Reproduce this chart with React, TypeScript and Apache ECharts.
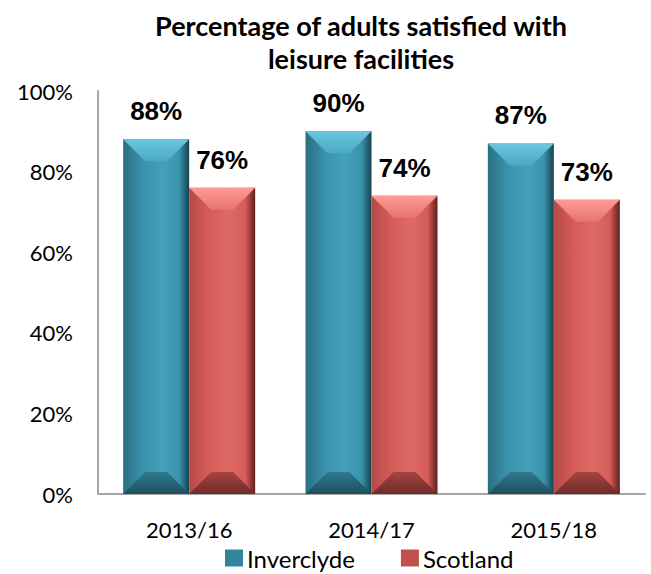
import React, { useEffect, useRef } from "react";
import * as echarts from "echarts";

const categories = ["2013/16", "2014/17", "2015/18"];
const inverclyde = [88, 90, 87];
const scotland = [76, 74, 73];
const yTicks = [0, 20, 40, 60, 80, 100];
const seriesNames = ["Inverclyde", "Scotland"];

const palettes = [
  { edgeL: "#2a6f82", mid: "#3a93ad", light: "#45a0b9", edgeR: "#17414d", top1: "#6cc6df", top2: "#4aa9c4", bot1: "#2f7a8f", bot2: "#1d4f5d", legend: "#31859c" },
  { edgeL: "#b54a47", mid: "#d65c58", light: "#dd6a66", edgeR: "#5e1f1d", top1: "#ff9a96", top2: "#e57470", bot1: "#a84441", bot2: "#6e2b29", legend: "#c0504d" },
];

export default function App() {
  const ref = useRef<HTMLDivElement>(null);
  useEffect(() => {
    document.body.style.margin = "0";
    const chart = echarts.init(ref.current!, undefined, { renderer: "svg" });
    const makeSeries = (idx: number, values: number[]) => {
      const p = palettes[idx];
      return {
        type: "custom",
        name: seriesNames[idx],
        itemStyle: { color: p.legend },
        data: values.map((v, i) => [i, v]),
        renderItem: (params: any, api: any) => {
          const ci = api.value(0);
          const v = api.value(1);
          const base = api.coord([ci, 0]);
          const top = api.coord([ci, v]);
          const band = api.size([1, 0])[0];
          const bw = band * 0.362;
          const x0 = idx === 0 ? base[0] - bw : base[0];
          const yt = top[1];
          const yb = base[1];
          const h = yb - yt;
          const d = Math.min(22, bw * 0.34, h / 2);
          const hGrad = new echarts.graphic.LinearGradient(0, 0, 1, 0, [
            { offset: 0, color: p.edgeL },
            { offset: 0.3, color: p.mid },
            { offset: 0.6, color: p.light },
            { offset: 0.85, color: p.mid },
            { offset: 1, color: p.edgeR },
          ]);
          return {
            type: "group",
            children: [
              { type: "rect", shape: { x: x0, y: yt, width: bw, height: h }, style: { fill: hGrad } },
              {
                type: "polygon",
                shape: { points: [[x0, yt], [x0 + bw, yt], [x0 + bw - d, yt + d], [x0 + d, yt + d]] },
                style: { fill: new echarts.graphic.LinearGradient(0, 0, 0, 1, [{ offset: 0, color: p.top1 }, { offset: 1, color: p.top2 }]) },
              },
              {
                type: "polygon",
                shape: { points: [[x0, yb], [x0 + bw, yb], [x0 + bw - d, yb - d], [x0 + d, yb - d]] },
                style: { fill: new echarts.graphic.LinearGradient(0, 0, 0, 1, [{ offset: 0, color: p.bot1 }, { offset: 1, color: p.bot2 }]) },
              },
              {
                type: "text",
                style: {
                  text: v + "%",
                  x: x0 + bw / 2,
                  y: yt - 15,
                  align: "center",
                  verticalAlign: "bottom",
                  fill: "#000",
                  font: "bold 26px 'Liberation Sans', Arial, sans-serif",
                },
              },
            ],
          };
        },
      };
    };
    chart.setOption({
      animation: false,
      title: {
        text: "Percentage of adults satisfied with\nleisure facilities",
        left: 356,
        top: 4,
        textAlign: "center",
        textStyle: { fontFamily: "Lato", fontWeight: "bold", fontSize: 27, lineHeight: 33, color: "#000" },
      },
      legend: {
        top: 541,
        left: 220,
        itemWidth: 18,
        itemHeight: 17,
        itemGap: 46,
        icon: "rect",
        data: seriesNames,
        textStyle: { fontFamily: "Lato", fontSize: 24, lineHeight: 24, color: "#000", padding: [0, 0, 0, -1] },
      },
      grid: { left: 98, right: 6, top: 91, bottom: 80 },
      xAxis: {
        type: "category",
        data: categories,
        axisLine: { lineStyle: { color: "#a6a6a6", width: 2 } },
        axisTick: { show: false },
        axisLabel: { fontFamily: "Lato", fontSize: 22, color: "#000", margin: 24 },
      },
      yAxis: {
        type: "value",
        min: yTicks[0],
        max: yTicks[yTicks.length - 1],
        interval: 20,
        axisLine: { show: true, lineStyle: { color: "#a6a6a6", width: 2 } },
        axisTick: { show: false },
        splitLine: { show: false },
        axisLabel: { fontFamily: "Lato", fontSize: 22, color: "#000", margin: 25, formatter: "{value}%" },
      },
      series: [makeSeries(0, inverclyde), makeSeries(1, scotland)],
    });
    return () => chart.dispose();
  }, []);
  return <div ref={ref} style={{ width: 651, height: 574 }} />;
}
